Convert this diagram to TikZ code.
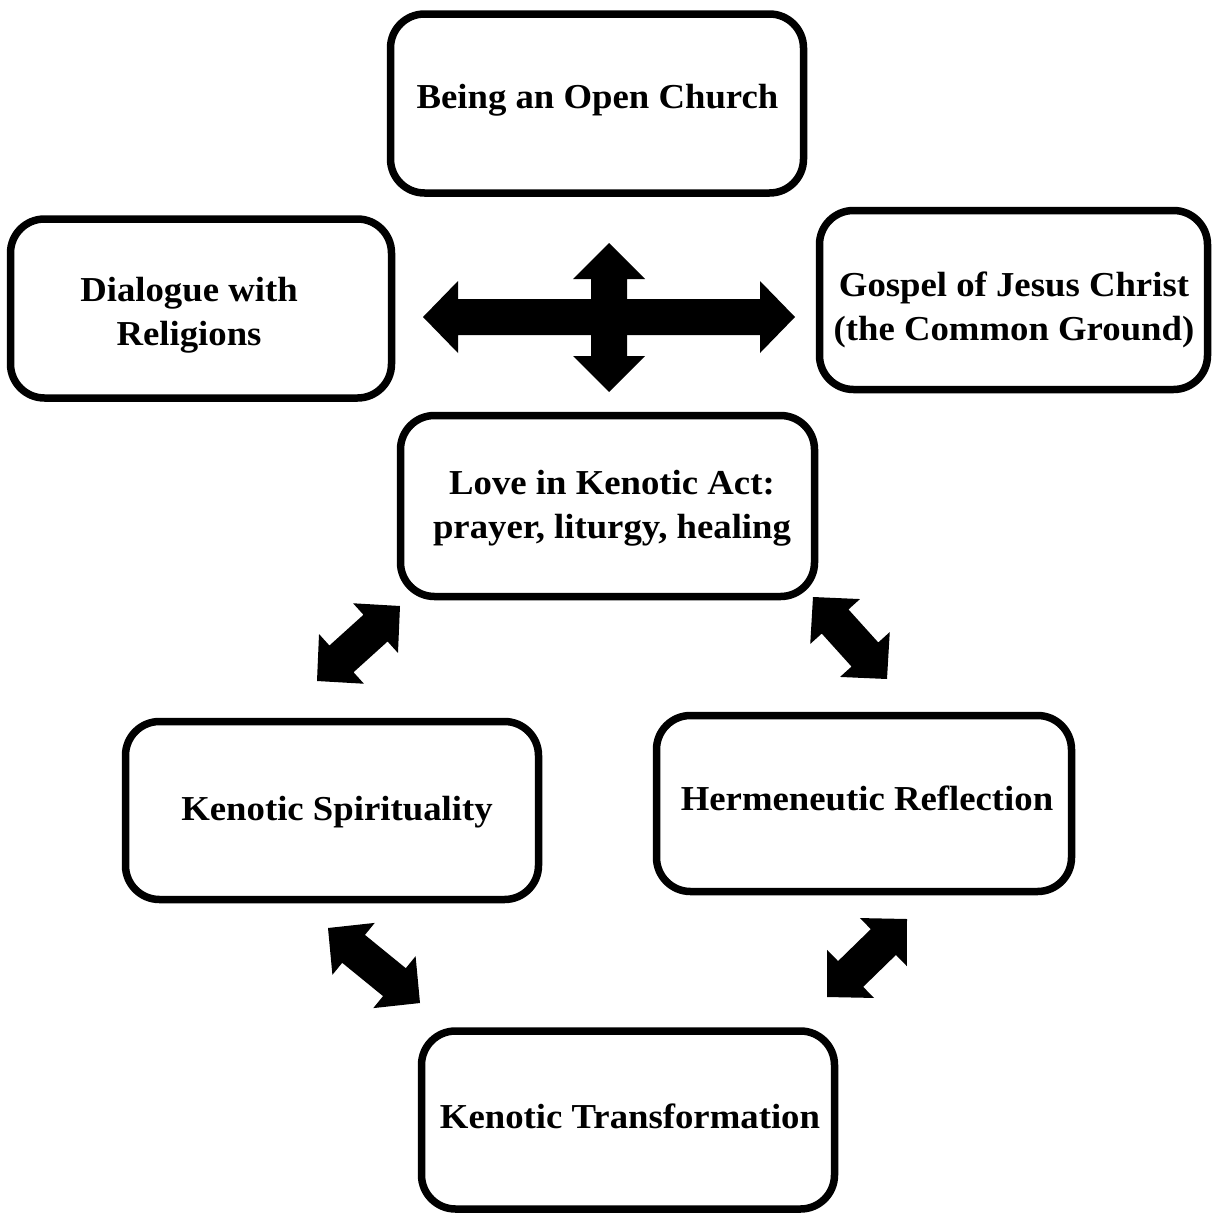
\documentclass[tikz,border=0pt]{standalone}
\usepackage{fontspec}
\setmainfont{Liberation Serif}[FakeStretch=1.05]
\usetikzlibrary{calc}

% Filled double-headed block arrow between two named points.
% #1, #2: tips; #3: half shaft width; #4: half head width; #5: head length
\newcommand\blockarrow[5]{%
  \coordinate (ba-a) at ($(#1)!#5!(#2)$);
  \coordinate (ba-b) at ($(#2)!#5!(#1)$);
  \fill (#1) -- ($(ba-a)!#4!90:(ba-b)$) -- ($(ba-a)!#3!90:(ba-b)$)
    -- ($(ba-b)!#3!-90:(ba-a)$) -- ($(ba-b)!#4!-90:(ba-a)$) -- (#2)
    -- ($(ba-b)!#4!90:(ba-a)$) -- ($(ba-b)!#3!90:(ba-a)$)
    -- ($(ba-a)!#3!-90:(ba-b)$) -- ($(ba-a)!#4!-90:(ba-b)$) -- cycle;
}

\tikzset{
  box/.style={draw=black, line width=7.5pt, rounded corners=34pt,
    minimum width=413pt, minimum height=179pt, inner sep=0pt},
  % anchored at the baseline of the last line
  caption/.style={font=\bfseries\fontsize{35}{44}\selectfont, align=center,
    anchor=base, inner sep=0pt},
}

\begin{document}
\begin{tikzpicture}[x=1pt, y=-1pt]
\useasboundingbox (0,0) rectangle (1212,1213);

% boxes
\node[box] (open) at (597,103.5) {};
\node[box, minimum width=381pt] (dialogue) at (201,308.5) {};
\node[box, minimum width=388pt] (gospel) at (1013.5,300) {};
\node[box, minimum width=414pt, minimum height=181pt] (love) at (607.5,506) {};
\node[box, minimum height=178pt] (spirit) at (332,810.5) {};
\node[box, minimum width=415pt, minimum height=176pt] (herme) at (864,803.5) {};
\node[box, minimum height=178pt] (transf) at (628,1120) {};

% texts
\node[caption] (t-open) at (597.5,108.5) {Being an Open Church};
\node[caption] (t-dialogue) at (189,345) {Dialogue with\\Religions};
\node[caption] (t-gospel) at (1014,340) {Gospel of Jesus Christ\\(the Common Ground)};
\node[caption] (t-love) at (612,538) {Love in Kenotic Act:\\prayer, liturgy, healing};
\node[caption] (t-spirit) at (337,820) {Kenotic Spirituality};
\node[caption] (t-herme) at (867,810) {Hermeneutic Reflection};
\node[caption] (t-transf) at (630,1128) {Kenotic Transformation};

% cross of arrows in the upper part
\coordinate (h-l) at (423,317);
\coordinate (h-r) at (795,317);
\coordinate (v-t) at (609,243);
\coordinate (v-b) at (609,392);
\blockarrow{h-l}{h-r}{18pt}{36pt}{35pt}
\blockarrow{v-t}{v-b}{18pt}{36pt}{36pt}

% diagonal arrows of the lower cycle
\coordinate (d1a) at (317,681);  \coordinate (d1b) at (400,606);
\coordinate (d2a) at (813,597);  \coordinate (d2b) at (887,679);
\coordinate (d3a) at (328,928);  \coordinate (d3b) at (420,1003);
\coordinate (d4a) at (907,919);  \coordinate (d4b) at (827,997);
\blockarrow{d1a}{d1b}{18pt}{33.5pt}{33pt}
\blockarrow{d2a}{d2b}{18pt}{33.5pt}{33pt}
\blockarrow{d3a}{d3b}{18pt}{33.5pt}{33pt}
\blockarrow{d4a}{d4b}{18pt}{33.5pt}{33pt}
\end{tikzpicture}
\end{document}
